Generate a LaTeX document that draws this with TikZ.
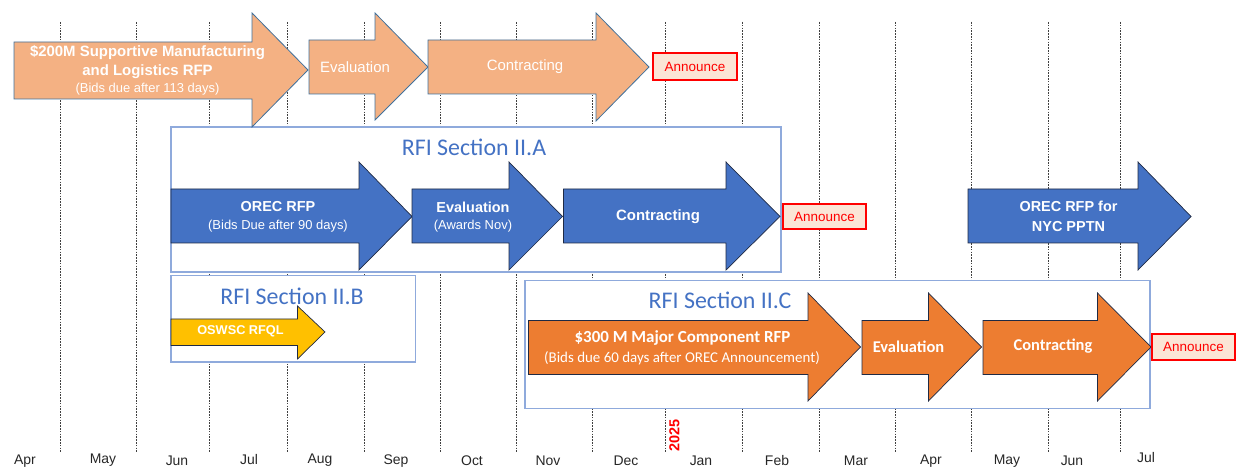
\documentclass[tikz,border=0pt]{standalone}
\usepackage{fontspec}
\setmainfont{Carlito}
\newfontfamily\aptos{Liberation Sans}
\definecolor{peachc}{HTML}{F4B183}
\definecolor{peachline}{HTML}{41719C}
\definecolor{bluec}{HTML}{4472C4}
\definecolor{orc}{HTML}{ED7D31}
\definecolor{goldc}{HTML}{FFC000}
\definecolor{darkline}{HTML}{1F2A44}
\definecolor{rfiline}{HTML}{8FAADC}
\definecolor{rfitext}{HTML}{4472C4}
\definecolor{annfill}{HTML}{FBE5D6}
\definecolor{monthc}{HTML}{262626}
\newcommand{\myarrow}[9]{\draw[#1] (#2,#5) -- (#3,#5) -- (#3,#7) -- (#4,#9) -- (#3,#8) -- (#3,#6) -- (#2,#6) -- cycle;}
\begin{document}
\begin{tikzpicture}[x=1bp,y=-1bp,
  grid/.style={draw=black!75, line width=0.6bp, dash pattern=on 1.6bp off 1.2bp},
  peach/.style={fill=peachc, draw=peachline, line width=0.8bp},
  bluearr/.style={fill=bluec, draw=darkline, line width=0.7bp},
  orarr/.style={fill=orc, draw=darkline, line width=0.7bp},
  goldarr/.style={fill=goldc, draw=darkline, line width=0.7bp},
  rfibox/.style={draw=rfiline, fill=white, line width=1.2bp},
  ann/.style={draw=red, fill=annfill, line width=2.4bp, text=red, inner sep=0,
    font=\aptos\fontsize{13.5}{15}\selectfont},
  wt/.style={text=white, align=center, inner sep=0},
  rfititle/.style={text=rfitext, inner sep=0, font=\fontsize{24}{26}\selectfont},
  month/.style={text=monthc, inner sep=0, font=\aptos\fontsize{14}{16}\selectfont}
]
\useasboundingbox (0,0) rectangle (1238,468);
% month grid
\foreach \gx in {60,136,209,287,364,440,516,592,665,742,819,895,971,1048,1120}
  \draw[grid] (\gx,22) -- (\gx,452);
% RFI boxes
\draw[rfibox] (171,127) rectangle (781,272);
\draw[rfibox] (171,275.5) rectangle (415.5,362);
\draw[rfibox] (525,280.5) rectangle (1150,408.5);
\node[rfititle] (tA) at (474,147) {RFI Section II.A};
\node[rfititle] (tB) at (292,296) {RFI Section II.B};
\node[rfititle] (tC) at (720,300) {RFI Section II.C};
% top row
\myarrow{peach}{14}{252}{308}{42}{99}{13}{127}{70}
\myarrow{peach}{309}{375}{428}{40}{94}{13}{120}{67}
\myarrow{peach}{428}{596}{649}{40}{94}{13}{121}{67}
\node[wt, font=\aptos\bfseries\fontsize{15}{19}\selectfont] (a1) at (147.5,62) {\$200M Supportive Manufacturing\\and Logistics RFP};
\node[wt, font=\aptos\fontsize{13}{15}\selectfont] (a1s) at (147.5,89.5) {(Bids due after 113 days)};
\node[wt, font=\aptos\fontsize{15}{17}\selectfont] (a2) at (355,67) {Evaluation};
\node[wt, font=\aptos\fontsize{15}{17}\selectfont] (a3) at (525,67) {Contracting};
\node[ann, minimum width=83.5bp, minimum height=26.5bp] (an1) at (695,66.5) {Announce};
% blue row
\myarrow{bluearr}{171}{359}{412}{189}{243}{162}{270}{216.5}
\myarrow{bluearr}{412}{509}{562.5}{189}{243}{162}{270}{216.5}
\myarrow{bluearr}{563.5}{726}{780}{189}{243}{162}{270}{216.5}
\myarrow{bluearr}{968}{1138}{1191}{189}{243}{162}{270}{216.5}
\node[wt, font=\aptos\bfseries\fontsize{14.5}{16}\selectfont] (b1) at (278,207) {OREC RFP};
\node[wt, font=\aptos\fontsize{13}{15}\selectfont] (b1s) at (278,226) {(Bids Due after 90 days)};
\node[wt, font=\aptos\bfseries\fontsize{14.5}{16}\selectfont] (b2) at (473,207) {Evaluation};
\node[wt, font=\aptos\fontsize{13}{15}\selectfont] (b2s) at (473,226) {(Awards Nov)};
\node[wt, font=\aptos\bfseries\fontsize{15}{17}\selectfont] (b3) at (658,216.5) {Contracting};
\node[ann, minimum width=82.5bp, minimum height=24.5bp] (an2) at (824.5,216.5) {Announce};
\node[wt, font=\aptos\bfseries\fontsize{14.5}{20}\selectfont] (b4) at (1068.5,216) {OREC RFP for\\NYC PPTN};
% II.B
\myarrow{goldarr}{171}{297.5}{325}{319}{345.5}{306}{359}{332}
\node[wt, font=\aptos\bfseries\fontsize{12.8}{14}\selectfont] (g1) at (240.5,331.5) {OSWSC RFQL};
% II.C
\myarrow{orarr}{528.5}{808}{860.5}{320.5}{374.5}{293}{401}{347}
\myarrow{orarr}{862}{928.5}{981.5}{320.5}{374.5}{293}{401}{347}
\myarrow{orarr}{983}{1097.5}{1151}{320.5}{374.5}{293}{401}{347}
\node[wt, font=\bfseries\fontsize{17}{19}\selectfont] (c1) at (682.5,338) {\$300 M Major Component RFP};
\node[wt, font=\fontsize{15}{17}\selectfont] (c1s) at (682,358) {(Bids due 60 days after OREC Announcement)};
\node[wt, font=\bfseries\fontsize{16.5}{18}\selectfont] (c2) at (908.5,347) {Evaluation};
\node[wt, font=\bfseries\fontsize{16.5}{18}\selectfont] (c3) at (1053,346.5) {Contracting};
\node[ann, minimum width=83.5bp, minimum height=25.5bp] (an3) at (1193.5,347) {Announce};
% year marker
\node[rotate=90, text=red, inner sep=0, font=\aptos\bfseries\fontsize{14.5}{15}\selectfont] (yr) at (674.5,435.5) {2025};
% months
\node[month] (m1) at (25,461) {Apr};
\node[month] (m2) at (103,460.5) {May};
\node[month] (m3) at (177,461) {Jun};
\node[month] (m4) at (249,459.5) {Jul};
\node[month] (m5) at (320,460.5) {Aug};
\node[month] (m6) at (396,461) {Sep};
\node[month] (m7) at (472,461) {Oct};
\node[month] (m8) at (548,461) {Nov};
\node[month] (m9) at (626,461) {Dec};
\node[month] (m10) at (701,461) {Jan};
\node[month] (m11) at (777,461) {Feb};
\node[month] (m12) at (856,461) {Mar};
\node[month] (m13) at (931,461) {Apr};
\node[month] (m14) at (1007,461) {May};
\node[month] (m15) at (1072,461) {Jun};
\node[month] (m16) at (1146,458) {Jul};
\end{tikzpicture}
\end{document}
